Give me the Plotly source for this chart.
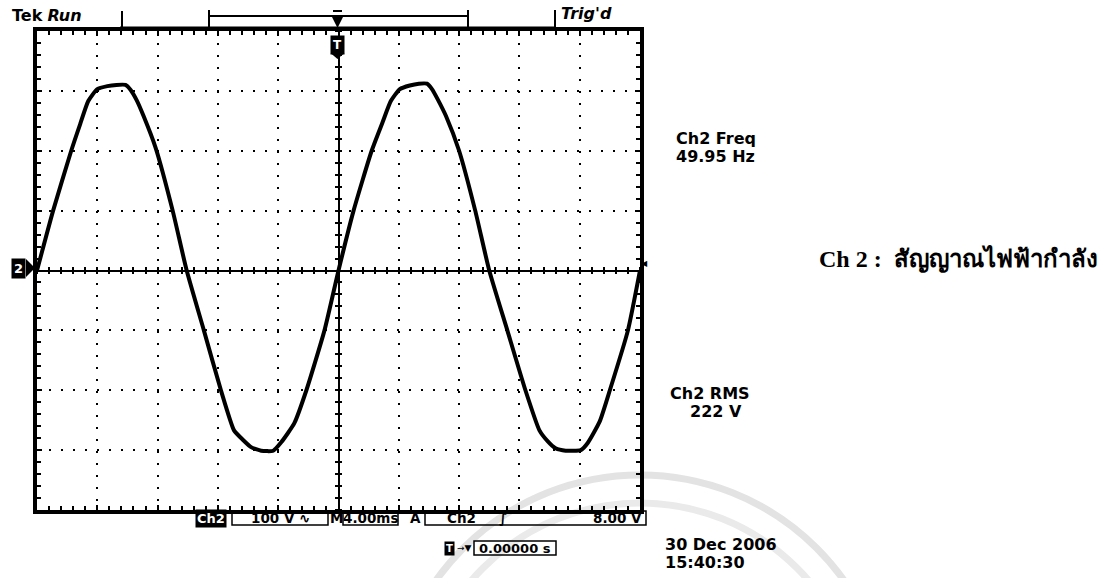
import plotly.graph_objects as go

# Ch2 trace: time in ms (trigger at 0) and voltage in V
time_ms = [-20.0, -18.93, -17.73, -17.13, -16.6, -16.0, -15.33, -14.73, -14.13, -13.8, -13.4, -12.93, -12.13, -11.0, -10.07,
           -8.93, -7.8, -6.93, -6.33, -5.8, -5.13, -4.33, -3.8, -2.93, -2.13, -0.93, 0.0,
           1.0, 2.2, 2.93, 3.47, 4.07, 4.73, 5.33, 5.87, 6.2, 6.6, 7.13, 8.0, 9.07, 10.0,
           11.2, 12.4, 13.33, 13.87, 14.4, 15.07, 16.07, 16.53, 17.33, 18.0, 19.2, 20.0]
volts = [0, 100, 200, 245, 283, 303, 308, 310, 310, 302, 285, 258, 205, 100, 0,
         -100, -200, -267, -283, -295, -301, -301, -287, -255, -200, -100, 0,
         100, 200, 248, 283, 303, 309, 312, 312, 303, 285, 258, 200, 100, 0,
         -100, -200, -267, -285, -297, -301, -300, -288, -252, -200, -100, 0]

meas_names = ["Ch2 Freq", "Ch2 RMS"]
meas_values = ["49.95 Hz", "222 V"]
vert_scale = "100 V \u223f"
time_scale = "4.00ms"
trig_source = "Ch2"
trig_level = "8.00 V"
position_text = "0.00000 s"
date_text = ["30 Dec 2006", "15:40:30"]
caption = "Ch 2 :  สัญญาณไฟฟ้ากำลัง"

W, H = 1118, 578
L, T, R, B = 37, 31, 640, 510
PW, PH = R - L, B - T


def px(x):
    return (x - L) / PW


def py(y):
    return (B - y) / PH


SCOPE_FONT = "DejaVu Sans"

fig = go.Figure()
fig.add_trace(go.Scatter(x=time_ms, y=volts, mode="lines",
                         line=dict(color="black", width=4, shape="spline", smoothing=0.5),
                         hoverinfo="skip", showlegend=False))
# empty traces so the centre cross axes get drawn
fig.add_trace(go.Scatter(x=[], y=[], xaxis="x2", yaxis="y2", showlegend=False))
fig.add_trace(go.Scatter(x=[], y=[], xaxis="x3", yaxis="y3", showlegend=False))

grid = dict(showgrid=True, gridcolor="black", gridwidth=2, griddash="2px,10px",
            zeroline=False, showticklabels=False,
            showline=True, linecolor="black", linewidth=3.5, mirror="ticks",
            ticks="inside", ticklen=5, tickwidth=1.5, tickcolor="black")
fig.update_xaxes(range=[-20, 20], dtick=4, tick0=-20,
                 minor=dict(dtick=0.8, ticks="inside", ticklen=4, tickwidth=1.5, tickcolor="black", showgrid=False),
                 **grid)
fig.update_yaxes(range=[-400, 400], dtick=100, tick0=-400,
                 minor=dict(dtick=20, ticks="inside", ticklen=4, tickwidth=1.5, tickcolor="black", showgrid=False),
                 **grid)

centre = dict(showgrid=False, zeroline=False, showticklabels=False, showline=True,
              linecolor="black", linewidth=1.5, ticks="outside", ticklen=3, tickwidth=1.5,
              tickcolor="black", anchor="free", position=0.5)
fig.update_layout(
    xaxis2=dict(overlaying="x", side="bottom", range=[-20, 20], dtick=0.8, tick0=-20, **centre),
    xaxis3=dict(overlaying="x", side="top", range=[-20, 20], dtick=0.8, tick0=-20, **centre),
    yaxis2=dict(overlaying="y", side="left", range=[-400, 400], dtick=20, tick0=-400, **centre),
    yaxis3=dict(overlaying="y", side="right", range=[-400, 400], dtick=20, tick0=-400, **centre),
)

shapes = []
ann = []


def line(x0, y0, x1, y1, w=2, color="black"):
    shapes.append(dict(type="line", xref="paper", yref="paper", x0=px(x0), y0=py(y0), x1=px(x1), y1=py(y1),
                       line=dict(color=color, width=w)))


def box(x0, y0, x1, y1):
    shapes.append(dict(type="rect", xref="paper", yref="paper", x0=px(x0), x1=px(x1), y0=py(y1), y1=py(y0),
                       line=dict(color="black", width=1.5)))


def tri(pts):
    d = "M " + " L ".join(f"{px(a)},{py(b)}" for a, b in pts) + " Z"
    shapes.append(dict(type="path", xref="paper", yref="paper", fillcolor="black", line=dict(width=0), path=d))


def text(x, y, s, size=15, color="black", xanchor="center", bg=None, pad=1, family=SCOPE_FONT, bold=True):
    a = dict(xref="paper", yref="paper", x=px(x), y=py(y), text=f"<b>{s}</b>" if bold else s,
             showarrow=False, xanchor=xanchor, yanchor="middle",
             font=dict(family=family, size=size, color=color))
    if bg:
        a.update(bgcolor=bg, borderpad=pad)
    ann.append(a)


# faint watermark seal
for r, c in [(250, "#e3e3e3"), (222, "#eaeaea")]:
    shapes.append(dict(type="circle", xref="paper", yref="paper", layer="below",
                       x0=px(640 - r), x1=px(640 + r), y0=py(725 + r), y1=py(725 - r),
                       line=dict(color=c, width=7)))

# record bar along the top
line(120, 28.5, 555, 28.5, w=4)
line(122, 11, 122, 28)
line(209, 10, 209, 28)
line(468, 10, 468, 28)
line(209, 16, 468, 16, w=2)
line(555, 10, 555, 28)
tri([(332, 17), (343, 17), (337.5, 28)])
line(333, 11, 342, 11, w=2)

# trigger position marker below the top border
text(337.5, 45, "T", size=12, color="white", bg="black", pad=2)
tri([(330.5, 53), (344.5, 53), (337.5, 59)])

# channel ground marker and trigger level arrow
text(18, 268, "2", size=13, color="white", bg="black", pad=2)
tri([(26, 259), (35, 268), (26, 277)])
text(644, 263, "\u25c0", size=8, bold=False)

# header text
ann.append(dict(xref="paper", yref="paper", x=px(10), y=py(15), xanchor="left", yanchor="middle",
                showarrow=False, text="<b>Tek</b> <b><i>Run</i></b>",
                font=dict(family=SCOPE_FONT, size=16, color="black")))
text(559, 13, "<i>Trig'd</i>", size=16, xanchor="left")

# measurements
text(674, 138, meas_names[0], size=16, xanchor="left")
text(674, 156, meas_values[0], size=16, xanchor="left")
text(710, 394, meas_names[1], size=16)
text(716, 411, meas_values[1], size=16)

# bottom status line
text(211, 518, "Ch2", size=13, color="white", bg="black")
box(232, 511, 328, 525)
text(280, 518, vert_scale, size=13.5)
text(336, 518, "M", size=13.5)
box(343, 511, 398, 525)
text(370.5, 518, time_scale, size=13.5)
text(415, 518, "A", size=13.5)
box(425, 511, 646, 525)
text(461, 518, trig_source, size=13.5)
text(503, 518, "\u222b", size=13.5)
text(644, 518, trig_level, size=13.5, xanchor="right")

# horizontal position readout
text(449, 548, "T", size=10, color="white", bg="black")
text(464, 548, "\u2192\u25bc", size=9, bold=False)
box(474, 541, 556, 555)
text(477, 548, position_text, size=13, xanchor="left")

# date and time
text(663, 544, date_text[0], size=16, xanchor="left")
text(663, 562, date_text[1], size=16, xanchor="left")

# caption to the right of the screen
ann.append(dict(xref="paper", yref="paper", x=px(817), y=py(258), xanchor="left", yanchor="middle",
                showarrow=False, text="<b>" + caption + "</b>",
                font=dict(family="Liberation Serif", size=24, color="black")))

fig.update_layout(
    width=W, height=H,
    margin=dict(l=L, r=W - R, t=T, b=H - B),
    paper_bgcolor="white", plot_bgcolor="rgba(0,0,0,0)",
    showlegend=False,
    shapes=shapes, annotations=ann,
)

fig.write_html("out.html", config={"displayModeBar": False},
               post_script="document.body.style.margin='0';")
